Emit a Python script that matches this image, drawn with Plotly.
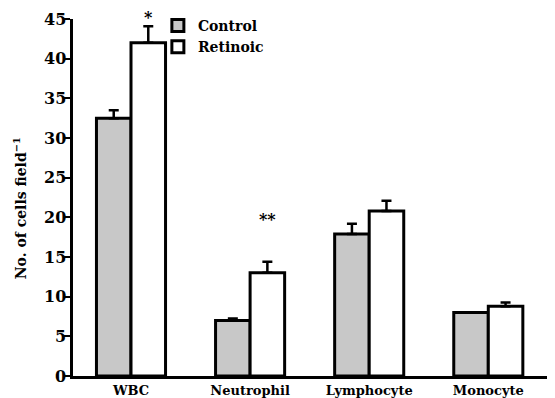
import plotly.graph_objects as go

categories = ["WBC", "Neutrophil", "Lymphocyte", "Monocyte"]
control = [32.5, 7.0, 17.9, 8.0]
control_err = [1.0, 0.25, 1.3, 0.0]
retinoic = [42.0, 13.0, 20.8, 8.8]
retinoic_err = [2.1, 1.4, 1.3, 0.45]
sig_labels = ["*", "**", "", ""]
sig_y = [45.2, 19.7, None, None]
y_ticks = [0, 5, 10, 15, 20, 25, 30, 35, 40, 45]
y_tick_labels = [str(v) for v in y_ticks]
y_max = 45

FONT = "DejaVu Serif"

fig = go.Figure()
fig.add_trace(go.Bar(
    name="Control", x=categories, y=control,
    marker=dict(color="#c8c8c8", line=dict(color="black", width=3)),
    error_y=dict(type="data", array=control_err, arrayminus=[0]*4, symmetric=False,
                 color="black", thickness=2.5, width=5),
))
fig.add_trace(go.Bar(
    name="Retinoic", x=categories, y=retinoic,
    marker=dict(color="white", line=dict(color="black", width=3)),
    error_y=dict(type="data", array=retinoic_err, arrayminus=[0]*4, symmetric=False,
                 color="black", thickness=2.5, width=5),
))

for i, (lab, yy) in enumerate(zip(sig_labels, sig_y)):
    if lab:
        fig.add_annotation(x=i + 0.145, y=yy / y_max, text=lab, showarrow=False,
                           font=dict(family=FONT, size=16, color="black", weight="bold"),
                           xref="x", yref="paper", yanchor="middle")

# y tick labels
for v, t in zip(y_ticks, y_tick_labels):
    fig.add_annotation(x=0, y=v, xref="paper", yref="y", text=t, showarrow=False,
                       xanchor="right", yanchor="middle", xshift=-5,
                       font=dict(family=FONT, size=16, color="black", weight="bold"))

fig.add_annotation(x=-0.11, y=0.47, xref="paper", yref="paper", showarrow=False,
                   text="No. of cells field<sup>−1</sup>", textangle=-90,
                   xanchor="center", yanchor="middle",
                   font=dict(family=FONT, size=14, color="black", weight="bold"))

fig.update_layout(
    width=547, height=390,
    margin=dict(l=65, r=0, t=11, b=22, autoexpand=False),
    paper_bgcolor="white", plot_bgcolor="white",
    barmode="group", bargap=0.42, bargroupgap=0,
    showlegend=True,
    legend=dict(xref="container", yref="container", x=0.274, y=0.995,
                xanchor="left", yanchor="top",
                font=dict(family=FONT, size=14, color="black", weight="bold"),
                bgcolor="rgba(0,0,0,0)", tracegroupgap=0, itemwidth=30),
    font=dict(family=FONT, color="black", weight="bold"),
)
fig.update_xaxes(
    range=[-0.487, 3.56], showline=True, linecolor="black", linewidth=3,
    ticks="", showgrid=False, zeroline=False, automargin=False,
    tickfont=dict(family=FONT, size=13, color="black", weight="bold"),
)
fig.update_yaxes(
    range=[0, y_max], tickvals=y_ticks, showline=True, linecolor="black", linewidth=3,
    ticks="outside", ticklen=7, tickwidth=2, tickcolor="black",
    showgrid=False, zeroline=False, automargin=False, showticklabels=False,
)

fig.write_html("out.html")
